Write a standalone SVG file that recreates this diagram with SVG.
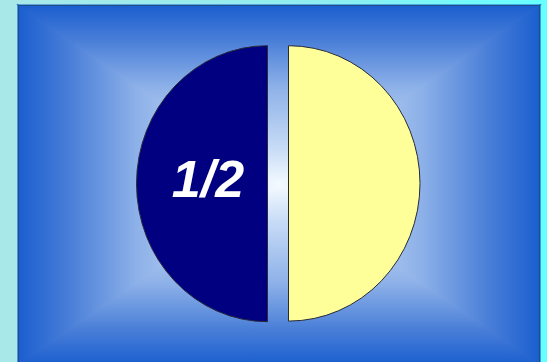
<svg xmlns="http://www.w3.org/2000/svg" width="547" height="362" viewBox="0 0 547 362">
  <defs>
    <linearGradient id="bg" x1="0" y1="0" x2="547" y2="0" gradientUnits="userSpaceOnUse">
      <stop offset="0" stop-color="#aae8e8"/>
      <stop offset="0.6" stop-color="#8eeef0"/>
      <stop offset="1" stop-color="#66ffff"/>
    </linearGradient>
    <linearGradient id="gTop" x1="0" y1="5" x2="0" y2="185" gradientUnits="userSpaceOnUse">
      <stop offset="0" stop-color="#1a5ecf"/>
      <stop offset="0.2" stop-color="#4a7fd8"/>
      <stop offset="0.45" stop-color="#8cb0e8"/>
      <stop offset="0.8" stop-color="#c8dcf6"/>
      <stop offset="1" stop-color="#f4faff"/>
    </linearGradient>
    <linearGradient id="gBot" x1="0" y1="365" x2="0" y2="185" gradientUnits="userSpaceOnUse">
      <stop offset="0" stop-color="#1a5ecf"/>
      <stop offset="0.2" stop-color="#4a7fd8"/>
      <stop offset="0.45" stop-color="#8cb0e8"/>
      <stop offset="0.8" stop-color="#c8dcf6"/>
      <stop offset="1" stop-color="#f4faff"/>
    </linearGradient>
    <linearGradient id="gLeft" x1="18" y1="0" x2="279" y2="0" gradientUnits="userSpaceOnUse">
      <stop offset="0" stop-color="#1a5ecf"/>
      <stop offset="0.2" stop-color="#4a7fd8"/>
      <stop offset="0.45" stop-color="#8cb0e8"/>
      <stop offset="0.8" stop-color="#c8dcf6"/>
      <stop offset="1" stop-color="#f4faff"/>
    </linearGradient>
    <linearGradient id="gRight" x1="540" y1="0" x2="279" y2="0" gradientUnits="userSpaceOnUse">
      <stop offset="0" stop-color="#1a5ecf"/>
      <stop offset="0.2" stop-color="#4a7fd8"/>
      <stop offset="0.45" stop-color="#8cb0e8"/>
      <stop offset="0.8" stop-color="#c8dcf6"/>
      <stop offset="1" stop-color="#f4faff"/>
    </linearGradient>
  </defs>
  <style>
    .half { stroke: #2a2a3a; stroke-width: 1; }
    .label { font-family: "Liberation Sans", Arial, sans-serif; font-weight: bold; font-style: italic; fill: #ffffff; }
  </style>
  <rect x="0" y="0" width="547" height="362" fill="url(#bg)"/>
  <g id="panel">
    <path d="M18,5 L18,365 L279,185 Z" fill="url(#gLeft)" stroke="url(#gLeft)" stroke-width="1.2"/>
    <path d="M540,5 L540,365 L279,185 Z" fill="url(#gRight)" stroke="url(#gRight)" stroke-width="1.2"/>
    <path d="M18,5 L540,5 L279,185 Z" fill="url(#gTop)" stroke="url(#gTop)" stroke-width="1.2"/>
    <path d="M18,365 L540,365 L279,185 Z" fill="url(#gBot)" stroke="url(#gBot)" stroke-width="1.2"/>
    <rect x="18.5" y="5.5" width="521" height="362" fill="none" stroke="#1d4e86" stroke-width="1"/>
  </g>
  <g id="left-half">
    <path class="half" d="M267.5,45.7 A131,138 0 0 0 267.5,321.7 Z" fill="#000080"/>
    <text class="label" x="208" y="197" font-size="52" text-anchor="middle">1/2</text>
  </g>
  <g id="right-half">
    <path class="half" d="M288.5,45.7 A131.5,137.7 0 0 1 288.5,321.1 Z" fill="#ffff99"/>
  </g>
</svg>
